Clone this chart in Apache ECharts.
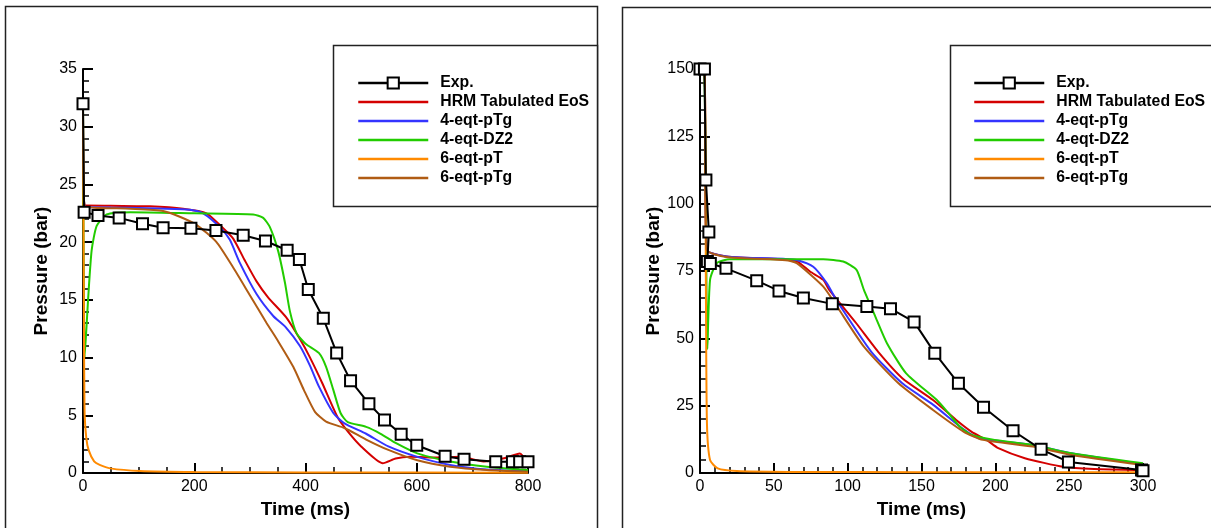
<!DOCTYPE html>
<html>
<head>
<meta charset="utf-8">
<script src="https://cdn.jsdelivr.net/npm/echarts@6/dist/echarts.min.js"></script>
<style>
html, body { margin: 0; padding: 0; background: #fff; }
#container { width: 1211px; height: 528px; }
</style>
</head>
<body>
<div id="container"></div>
<script>
var myChart = echarts.init(document.getElementById("container"));

var FONT = "Liberation Sans, Arial, Helvetica, sans-serif";
var names = ["Exp.", "HRM Tabulated EoS", "4-eqt-pTg", "4-eqt-DZ2", "6-eqt-pT", "6-eqt-pTg"];
var colors = ["#000000", "#d40000", "#3434ff", "#22cc00", "#ff8a00", "#b05c14"];

// left panel, time (ms) / pressure (bar)
var expL = [[0,32],[2,22.6],[27,22.3],[65,22.1],[107,21.6],[144,21.25],[194,21.2],[239,21.0],[288,20.6],[328,20.1],[367,19.3],[389,18.5],[405,15.9],[432,13.4],[456,10.4],[481,8.0],[514,6.0],[542,4.6],[572,3.35],[600,2.4],[651,1.45],[685,1.2],[742,0.98],[772,0.98],[785,0.98],[800,0.98]];
var hrmL = [[0,32],[3,23.2],[50,23.15],[120,23.1],[180,22.9],[222,22.5],[252,21.2],[270,20.3],[290,18.5],[312,16.6],[333,15.2],[365,13.5],[390,11.6],[407,10.1],[430,7.8],[457,4.9],[476,3.6],[500,2.3],[539,0.85],[562,1.25],[588,1.4],[641,1.35],[680,1.4],[720,1.0],[759,1.3],[785,1.7],[800,0.9]];
var ptgL = [[0,32],[3,23.1],[50,23.0],[150,22.9],[192,22.8],[216,22.5],[246,21.3],[264,20.2],[282,18.2],[312,15.5],[342,13.6],[365,12.6],[390,11.0],[408,9.3],[424,7.5],[450,5.2],[470,4.3],[509,3.4],[549,2.3],[601,1.4],[660,0.7],[726,0.3],[800,0.15]];
var dz2L = [[0,32],[3,10],[9.5,15.3],[15.6,19.3],[24.6,21.4],[42.6,22.4],[85,22.6],[200,22.5],[306,22.4],[324,22.1],[336,21.3],[351,19.2],[363,16.5],[372,14.0],[384,12.1],[400,11.2],[424,10.4],[437,9.2],[450,7.2],[463,5.2],[476,4.4],[509,4.0],[535,3.4],[562,2.6],[601,1.7],[660,1.0],[726,0.55],[800,0.26]];
var ptL = [[0,32],[1,20],[2,10],[3,5],[6,3],[10,2],[20,1],[30,0.7],[49,0.4],[102,0.17],[200,0.08],[400,0.05],[800,0.03]];
var ptg6L = [[0,32],[3,23.1],[85,22.9],[144,22.7],[174,22.2],[204,21.5],[240,20.0],[270,17.8],[300,15.4],[330,13.0],[351,11.4],[378,9.2],[397,7.2],[417,5.3],[437,4.45],[470,3.9],[509,2.9],[549,2.0],[601,1.1],[660,0.55],[726,0.26],[800,0.1]];

// right panel
var expR = [[0,150],[3,150],[4,108.8],[6,89.5],[5,78.5],[7,77.8],[17.6,76.0],[38.4,71.4],[53.5,67.6],[70,65.0],[89.6,62.8],[113,61.8],[129,61.0],[145,56.1],[159,44.5],[175,33.3],[192,24.4],[212,15.7],[231,8.8],[249.5,4.1],[299,1.1],[300,0.8]];
var hrmR = [[0,150],[3,150],[4.5,83],[18,80.4],[58,79.3],[66,78.5],[74.5,74.8],[83.5,71.7],[87.5,68],[105.8,55.6],[121.4,44.5],[137,35.2],[157.8,27.1],[173.5,19.7],[184,15.3],[194,12.3],[202,9.2],[220,5.5],[246,2.3],[267,1.5],[300,1.1]];
var ptgR = [[0,150],[3,150],[4.5,83],[18,80.4],[58,79.5],[65.5,79.1],[76.7,76.6],[85.8,70.5],[92.6,64],[116,45],[137,33.3],[158,25.3],[179,16],[189,12.9],[225.5,10.4],[251.6,7.3],[300,3.2]];
var dz2R = [[0,150],[3,148],[5,46],[6.8,71.7],[11.3,77.9],[20.3,79.4],[83.5,79.4],[97,78.5],[106,75.4],[111,68],[118.8,58],[126.6,48.2],[139.6,37],[160.4,27.1],[168.3,22.2],[176,17.2],[184,14.1],[199.5,12.3],[225.5,10.4],[251.6,7.3],[300,3.6]];
var ptR = [[0,150],[3,150],[4,68],[4.7,18.5],[6.8,4.8],[12,1.7],[25,0.7],[60,0.4],[150,0.3],[300,0.25]];
var ptg6R = [[0,150],[3,150],[4.5,83],[18,80.2],[58,79.0],[65.5,77.9],[83.5,69.2],[92.8,61.8],[111,46.9],[134.4,33.3],[157.8,23.4],[178.7,15.3],[191.6,12.3],[225.5,9.8],[251.6,6.7],[300,3.0]];

var leftSets = [expL, hrmL, ptgL, dz2L, ptL, ptg6L];
var rightSets = [expR, hrmR, ptgR, dz2R, ptR, ptg6R];

function axisCommon(min, max, interval, minorSplit) {
    return {
        type: "value",
        min: min, max: max, interval: interval,
        axisLine: { show: true, onZero: false, lineStyle: { color: "#000", width: 2 } },
        axisTick: { show: true, inside: true, length: 10, lineStyle: { color: "#000", width: 2 } },
        minorTick: { show: true, splitNumber: minorSplit, length: 6, lineStyle: { color: "#000", width: 1.5 } },
        axisLabel: { color: "#000", fontSize: 16, fontFamily: FONT, margin: 6 },
        splitLine: { show: false },
        nameTextStyle: { color: "#000", fontSize: 19, fontWeight: "bold", fontFamily: FONT }
    };
}

function xAx(idx, max, interval, minorSplit) {
    var a = axisCommon(0, max, interval, minorSplit);
    a.gridIndex = idx;
    a.name = "Time (ms)";
    a.nameLocation = "middle";
    a.nameGap = 20;
    a.nameTextStyle.verticalAlign = "top";
    return a;
}
function yAx(idx, max, interval, minorSplit) {
    var a = axisCommon(0, max, interval, minorSplit);
    a.gridIndex = idx;
    a.name = "Pressure (bar)";
    a.nameLocation = "middle";
    a.nameGap = 32;
    return a;
}

var series = [];
[leftSets, rightSets].forEach(function (sets, gi) {
    sets.forEach(function (d, i) {
        var isExp = i === 0;
        series.push({
            name: names[i],
            type: "line",
            xAxisIndex: gi,
            yAxisIndex: gi,
            data: d,
            z: isExp ? 4 : 3,
            smooth: isExp ? false : 0.2,
            symbol: isExp ? "emptyRect" : "none",
            symbolSize: 11,
            showAllSymbol: true,
            lineStyle: { color: colors[i], width: 2 },
            itemStyle: { color: colors[i], borderWidth: 2 }
        });
    });
});

// legend entries: only Exp. keeps its square marker
var legendData = names.map(function (n, i) {
    return i === 0 ? { name: n } : { name: n, itemStyle: { opacity: 0 } };
});

function legendAt(left) {
    return {
        data: legendData,
        orient: "vertical",
        left: left,
        top: 75,
        itemWidth: 70,
        itemHeight: 14,
        itemGap: 3,
        padding: 0,
        selectedMode: false,
        lineStyle: { width: 2.5 },
        textStyle: { color: "#000", fontSize: 15.8, lineHeight: 16, fontWeight: "bold", fontFamily: FONT, padding: [0, 0, 0, 7] }
    };
}

myChart.setOption({
    animation: false,
    backgroundColor: "#fff",
    grid: [
        { left: 83, top: 69, width: 445, height: 404 },
        { left: 700, top: 69, width: 443, height: 404 }
    ],
    xAxis: [xAx(0, 800, 200, 4), xAx(1, 300, 50, 5)],
    yAxis: [yAx(0, 35, 5, 5), yAx(1, 150, 25, 5)],
    legend: [legendAt(357), legendAt(973)],
    graphic: [
        { type: "rect", shape: { x: 5.5, y: 6.5, width: 592, height: 540 }, style: { fill: null, stroke: "#222", lineWidth: 1.5 }, z: 0 },
        { type: "rect", shape: { x: 622.5, y: 7.5, width: 620, height: 540 }, style: { fill: null, stroke: "#222", lineWidth: 1.5 }, z: 0 },
        { type: "rect", shape: { x: 333.5, y: 45.5, width: 264, height: 161 }, style: { fill: "#fff", stroke: "#222", lineWidth: 1.5 }, z: 1 },
        { type: "rect", shape: { x: 950.5, y: 45.5, width: 300, height: 161 }, style: { fill: "#fff", stroke: "#222", lineWidth: 1.5 }, z: 1 }
    ],
    series: series
});
</script>
</body>
</html>
